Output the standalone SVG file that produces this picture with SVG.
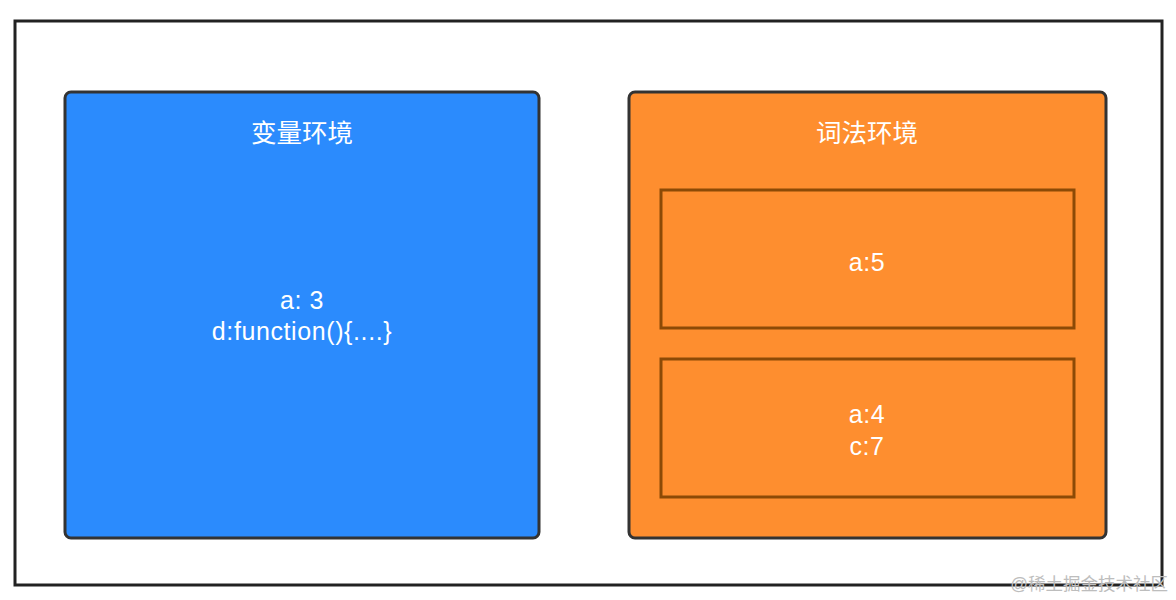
<svg xmlns="http://www.w3.org/2000/svg" width="1176" height="600" viewBox="0 0 1176 600">
<style>
.t{font-family:"Liberation Sans","Noto Sans CJK SC",sans-serif;fill:#fff;font-size:25px;letter-spacing:0.6px;text-anchor:middle}
.h{font-size:25.5px;letter-spacing:0}
.box{stroke:#333;stroke-width:3}
.inner{fill:none;stroke:#8c4a06;stroke-width:3}
</style>
<rect width="1176" height="600" fill="#fff"/>
<g id="outer"><rect x="15" y="21" width="1147" height="564" fill="#fff" stroke="#222" stroke-width="3"/></g>
<g id="var-env">
<rect class="box" x="65" y="92" width="474" height="446" rx="6" fill="#2b8bfd"/>
<text class="t h" x="302" y="142">变量环境</text>
<text class="t" x="302" y="309">a: 3</text>
<text class="t" x="302" y="340">d:function(){....}</text>
</g>
<g id="lex-env">
<rect class="box" x="629" y="92" width="477" height="446" rx="6" fill="#fe8e2f"/>
<text class="t h" x="867" y="142">词法环境</text>
</g>
<g id="block1">
<rect class="inner" x="661" y="190" width="413" height="138"/>
<text class="t" x="867" y="271">a:5</text>
</g>
<g id="block2">
<rect class="inner" x="661" y="359" width="413" height="138"/>
<text class="t" x="867" y="423">a:4</text>
<text class="t" x="867" y="455">c:7</text>
</g>
<g id="connectors"></g>
<text x="1168" y="590" font-family="'Liberation Sans','Noto Sans CJK SC',sans-serif" font-size="17.5" fill="#bdbdbd" text-anchor="end">@稀土掘金技术社区</text>
</svg>
